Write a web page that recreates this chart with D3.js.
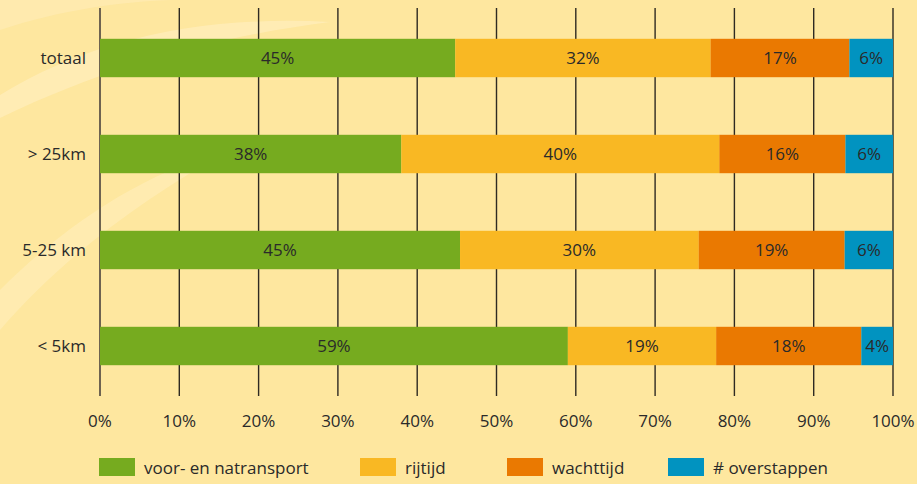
<!DOCTYPE html>
<html>
<head>
<meta charset="utf-8">
<script src="https://cdn.jsdelivr.net/npm/d3@7"></script>
<style>
  html, body { margin: 0; padding: 0; background: #fee79f; }
  #chart { width: 917px; height: 484px; }
  text { font-family: "Open Sans", "DejaVu Sans", sans-serif; fill: #2a2a2a; }
</style>
</head>
<body>
<div id="chart"></div>
<script>
const categories = ["totaal", "> 25km", "5-25 km", "< 5km"];
const series = ["voor- en natransport", "rijtijd", "wachttijd", "# overstappen"];
const colors = ["#76ab1f", "#f9b823", "#ea7901", "#0193c0"];
// shares per category, in the order of the series
const voorNa = [44.8, 38.0, 45.4, 59.0];
const rijtijd = [32.2, 40.1, 30.1, 18.7];
const wachttijd = [17.5, 15.9, 18.4, 18.3];
const overstappen = [5.5, 6.0, 6.1, 4.0];
const labels = [
  ["45%", "32%", "17%", "6%"],
  ["38%", "40%", "16%", "6%"],
  ["45%", "30%", "19%", "6%"],
  ["59%", "19%", "18%", "4%"]
];
const ticks = [0, 10, 20, 30, 40, 50, 60, 70, 80, 90, 100];

const W = 917, H = 484;
const fs = 17;
const svg = d3.select("#chart").append("svg")
  .attr("width", W).attr("height", H);

// background with the light swirl in the upper left
svg.append("rect").attr("width", W).attr("height", H).attr("fill", "#fee79f");
svg.append("path")
  .attr("d", "M0,0 L0,330 C60,260 140,200 230,150 C150,170 70,220 0,290 Z")
  .attr("fill", "#ffeebd").attr("opacity", 0.6);
svg.append("path")
  .attr("d", "M0,95 C90,40 200,15 330,22 C230,35 120,60 0,118 Z")
  .attr("fill", "#ffeebd").attr("opacity", 0.7);
svg.append("path")
  .attr("d", "M0,30 C60,10 120,2 170,0 L0,0 Z")
  .attr("fill", "#ffeebd").attr("opacity", 0.5);

const x = d3.scaleLinear().domain([0, 100]).range([100, 893]);
const y = d3.scaleBand().domain(categories).range([10, 394]).paddingInner(0.6).paddingOuter(0.3);

// gridlines
svg.append("g").selectAll("line").data(ticks).enter().append("line")
  .attr("x1", d => x(d)).attr("x2", d => x(d))
  .attr("y1", 8).attr("y2", 396)
  .attr("stroke", d => d === 0 ? "#6e6350" : "#2e2a22")
  .attr("stroke-width", d => d === 0 ? 2 : 1.4);

// tick labels
svg.append("g").selectAll("text").data(ticks).enter().append("text")
  .attr("x", d => x(d)).attr("y", 427)
  .attr("text-anchor", "middle").attr("font-size", fs)
  .text(d => d + "%");

// stacked data
const rows = categories.map((c, i) => {
  const vals = [voorNa[i], rijtijd[i], wachttijd[i], overstappen[i]];
  let acc = 0;
  return vals.map((v, j) => {
    const seg = { cat: c, j: j, x0: acc, x1: acc + v, label: labels[i][j] };
    acc += v;
    return seg;
  });
});
const segs = rows.flat();

const bars = svg.append("g");
bars.selectAll("rect").data(segs).enter().append("rect")
  .attr("x", d => x(d.x0))
  .attr("width", d => Math.min(x(d.x1), x(100)) - x(d.x0))
  .attr("y", d => y(d.cat))
  .attr("height", y.bandwidth())
  .attr("fill", d => colors[d.j]);

bars.selectAll("text").data(segs).enter().append("text")
  .attr("x", d => (x(d.x0) + Math.min(x(d.x1), x(100))) / 2)
  .attr("y", d => y(d.cat) + y.bandwidth() / 2 + 6)
  .attr("text-anchor", "middle").attr("font-size", fs)
  .text(d => d.label);

// category labels
svg.append("g").selectAll("text").data(categories).enter().append("text")
  .attr("x", 86).attr("y", d => y(d) + y.bandwidth() / 2 + 6)
  .attr("text-anchor", "end").attr("font-size", fs)
  .text(d => d);

// legend
const legendX = [99, 360, 507, 668];
const lg = svg.append("g").selectAll("g").data(series).enter().append("g")
  .attr("transform", (d, i) => "translate(" + legendX[i] + ",458)");
lg.append("rect").attr("width", 36).attr("height", 18)
  .attr("fill", (d, i) => colors[i]);
lg.append("text").attr("x", 45).attr("y", 16)
  .attr("font-size", fs).text(d => d);
</script>
</body>
</html>
